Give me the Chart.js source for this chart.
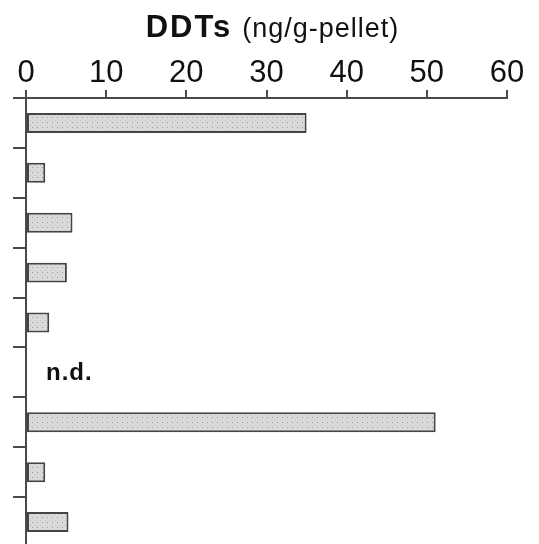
<!DOCTYPE html>
<html>
<head>
<meta charset="utf-8">
<script src="https://cdn.jsdelivr.net/npm/chart.js@4.4.1/dist/chart.umd.min.js"></script>
<style>
html,body{margin:0;padding:0;background:#fff;overflow:hidden;}
#wrap{width:539px;height:550px;}
</style>
</head>
<body>
<div id="wrap"><canvas id="c" width="539" height="550"></canvas></div>
<script>
// ---- data ----
const categories = ['S1','S2','S3','S4','S5','S6','S7','S8','S9'];
const ddtValues  = [35.0, 2.4, 5.8, 5.1, 2.9, null, 51.1, 2.4, 5.3];
const notes      = ['', '', '', '', '', 'n.d.', '', '', ''];
const xTicks     = [0, 10, 20, 30, 40, 50, 60];
const titleMain  = 'DDTs';
const titleUnit  = '(ng/g-pellet)';

// ---- pattern fill ----
function makePattern(){
  const p = document.createElement('canvas');
  p.width = 5; p.height = 5;
  const g = p.getContext('2d');
  g.fillStyle = '#dadada'; g.fillRect(0,0,5,5);
  g.fillStyle = '#9c9c9c'; g.fillRect(2,2,1,1);
  g.fillStyle = '#c2c2c2'; g.fillRect(0,0,1,1);
  return document.getElementById('c').getContext('2d').createPattern(p,'repeat');
}

const FONT = '"Liberation Sans", Arial, Helvetica, sans-serif';
const lineColor = '#4a4a4a';

const overlay = {
  id:'overlay',
  afterDraw(chart){
    const ctx = chart.ctx, ca = chart.chartArea;
    const ys = chart.scales.y;
    ctx.save();
    ctx.fillStyle = '#111';
    ctx.textBaseline = 'alphabetic';
    ctx.textAlign = 'left';
    const setMain = ()=>{ ctx.font = 'bold 31px ' + FONT; try{ ctx.letterSpacing = '2px'; }catch(e){} };
    const setUnit = ()=>{ ctx.font = '27px ' + FONT; try{ ctx.letterSpacing = '1px'; }catch(e){} };
    setMain(); const w1 = ctx.measureText(titleMain).width;
    setUnit(); const w2 = ctx.measureText(titleUnit).width;
    const gap = 10;
    const cx = (ca.left + ca.right)/2 + 6;
    const x0 = cx - (w1 + gap + w2)/2;
    setMain(); ctx.fillText(titleMain, x0, 37);
    setUnit(); ctx.fillText(titleUnit, x0 + w1 + gap, 37);
    // notes
    ctx.font = 'bold 24px ' + FONT;
    try{ ctx.letterSpacing = '1px'; }catch(e){}
    ctx.textBaseline = 'middle';
    notes.forEach((n,i)=>{
      if(!n) return;
      ctx.fillText(n, ca.left + 20, ys.getPixelForValue(i) + 1);
    });
    ctx.restore();
  }
};

new Chart(document.getElementById('c'), {
  type:'bar',
  data:{
    labels: categories,
    datasets:[{
      data: ddtValues,
      backgroundColor: makePattern(),
      borderColor: '#444',
      borderWidth: 2,
      borderSkipped: false,
      categoryPercentage: 1,
      barPercentage: 0.4
    }]
  },
  options:{
    indexAxis:'y',
    responsive:false,
    animation:false,
    events:[],
    layout:{padding:{left:0,right:32,top:0,bottom:3}},
    plugins:{legend:{display:false},tooltip:{enabled:false},title:{display:false}},
    scales:{
      x:{
        position:'top',
        min:0, max:60,
        afterBuildTicks(scale){ scale.ticks = xTicks.map(v=>({value:v})); },
        afterFit(scale){ scale.height = 98; },
        grid:{drawOnChartArea:false, drawTicks:true, tickLength:8, color:lineColor, lineWidth:2},
        border:{display:true, color:lineColor, width:2},
        ticks:{color:'#111', font:{family:FONT, size:31}, padding:-2, maxRotation:0, autoSkip:false}
      },
      y:{
        offset:true,
        afterFit(scale){ scale.width = 26; },
        grid:{offset:true, drawOnChartArea:false, drawTicks:true, tickLength:13, color:lineColor, lineWidth:2},
        border:{display:true, color:lineColor, width:2},
        ticks:{display:false}
      }
    }
  },
  plugins:[overlay]
});
</script>
</body>
</html>
